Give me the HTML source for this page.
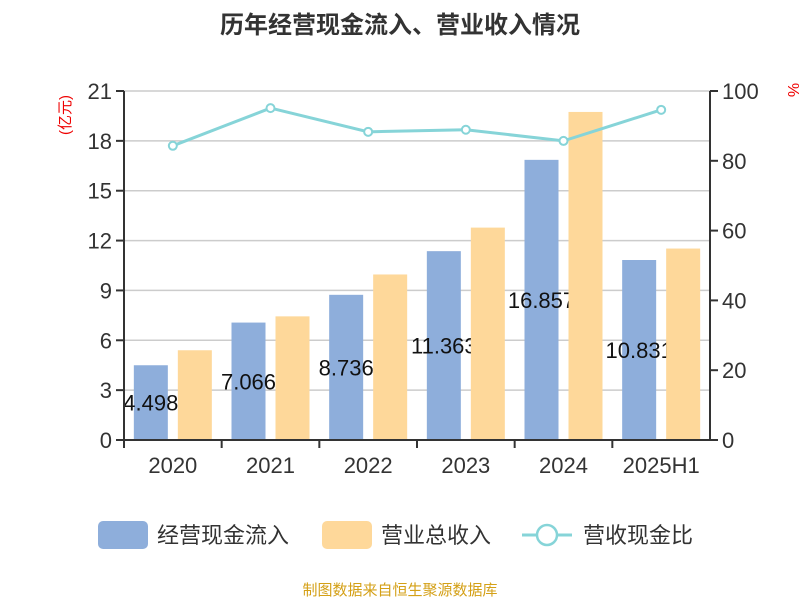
<!DOCTYPE html>
<html><head><meta charset="utf-8"><style>
body{margin:0;background:#fff;font-family:"Liberation Sans","Noto Sans CJK SC",sans-serif}
</style></head><body>
<svg id="c" width="800" height="600" xmlns="http://www.w3.org/2000/svg" font-family="Liberation Sans, Noto Sans CJK SC, sans-serif">
<text x="400" y="33" text-anchor="middle" font-size="24" font-weight="bold" fill="#333">历年经营现金流入、营业收入情况</text>
<text transform="translate(70,115) rotate(-90)" text-anchor="middle" font-size="15" fill="#e00">(亿元)</text>
<text x="788" y="90" text-anchor="middle" font-size="16" fill="#e00" transform="rotate(90,788,90)">%</text>
<g id="grid"></g><g id="bars"></g><g id="axes"></g><g id="line"></g>
<g font-size="22" fill="#333">
<rect x="98" y="521" width="50" height="28" rx="5" fill="#8eaedb"/>
<text x="157" y="543">经营现金流入</text>
<rect x="322" y="521" width="50" height="28" rx="5" fill="#fed89a"/>
<text x="381" y="543">营业总收入</text>
<line x1="522" y1="535" x2="572" y2="535" stroke="#86d4d8" stroke-width="3"/>
<circle cx="547" cy="535" r="10" fill="#fff" stroke="#86d4d8" stroke-width="2.5"/>
<text x="583" y="543">营收现金比</text>
</g>
<text x="400" y="595" text-anchor="middle" font-size="15" fill="#d4a017">制图数据来自恒生聚源数据库</text>
</svg>
<script>
const categories=["2020","2021","2022","2023","2024","2025H1"];
const cashIn=[4.498,7.066,8.736,11.363,16.857,10.831];
const revenue=[5.4,7.44,9.96,12.78,19.74,11.52];
const ratio=[84.3,95.1,88.3,88.9,85.7,94.6];
const leftTicks=[0,3,6,9,12,15,18,21];
const rightTicks=[0,20,40,60,80,100];
const NS="http://www.w3.org/2000/svg";
const X0=124,X1=710,Y0=440,Y1=91;
const yL=v=>Y0-(v/21)*(Y0-Y1), yR=v=>Y0-(v/100)*(Y0-Y1);
const bw=(X1-X0)/categories.length, cx=i=>X0+bw*(i+0.5);
function mk(t,a,p,name){const e=document.createElementNS(NS,t);for(const k in a)e.setAttribute(k,a[k]);


document.getElementById(p).appendChild(e);return e;}
leftTicks.forEach(v=>{
 if(v>0)mk('line',{x1:X0,x2:X1,y1:yL(v),y2:yL(v),stroke:'#ccc','stroke-width':1.5},'grid','gridline');
 mk('line',{x1:X0-8,x2:X0,y1:yL(v),y2:yL(v),stroke:'#333','stroke-width':2},'axes','left-tick');
 const t=mk('text',{x:X0-12,y:yL(v)+8,'text-anchor':'end','font-size':22,fill:'#333'},'axes','left-tick-label');t.textContent=v;
});
rightTicks.forEach(v=>{
 mk('line',{x1:X1,x2:X1+8,y1:yR(v),y2:yR(v),stroke:'#333','stroke-width':2},'axes','right-tick');
 const t=mk('text',{x:X1+12,y:yR(v)+8,'font-size':22,fill:'#333'},'axes','right-tick-label');t.textContent=v;
});
mk('line',{x1:X0,x2:X0,y1:Y1,y2:Y0,stroke:'#333','stroke-width':2},'axes','left-axis');
mk('line',{x1:X1,x2:X1,y1:Y1,y2:Y0,stroke:'#333','stroke-width':2},'axes','right-axis');
mk('line',{x1:X0,x2:X1,y1:Y0,y2:Y0,stroke:'#333','stroke-width':2},'axes','x-axis');
categories.forEach((c,i)=>{
 mk('line',{x1:X0+bw*i,x2:X0+bw*i,y1:Y0,y2:Y0+8,stroke:'#333','stroke-width':2},'axes','x-tick');
 const t=mk('text',{x:cx(i),y:Y0+33,'text-anchor':'middle','font-size':22,fill:'#333'},'axes','x-tick-label');t.textContent=c;
 mk('rect',{x:cx(i)-39,y:yL(cashIn[i]),width:34,height:Y0-yL(cashIn[i]),fill:'#8eaedb'},'bars','bar-cash-'+c);
 const l=mk('text',{x:cx(i)-22,y:(Y0+yL(cashIn[i]))/2+8,'text-anchor':'middle','font-size':22,fill:'#111'},'bars','value-label-'+c);l.textContent=cashIn[i];
});
categories.forEach((c,i)=>{
 mk('rect',{x:cx(i)+5,y:yL(revenue[i]),width:34,height:Y0-yL(revenue[i]),fill:'#fed89a'},'bars','bar-revenue-'+c);
});
mk('line',{x1:X1,x2:X1,y1:Y1,y2:Y0,stroke:'#333','stroke-width':2},'axes','right-axis-top');
mk('polyline',{points:ratio.map((v,i)=>cx(i)+','+yR(v)).join(' '),fill:'none',stroke:'#86d4d8','stroke-width':3},'line','ratio-line');
ratio.forEach((v,i)=>mk('circle',{cx:cx(i),cy:yR(v),r:4,fill:'#fff',stroke:'#86d4d8','stroke-width':2},'line','ratio-point-'+categories[i]));
</script>
</body></html>
